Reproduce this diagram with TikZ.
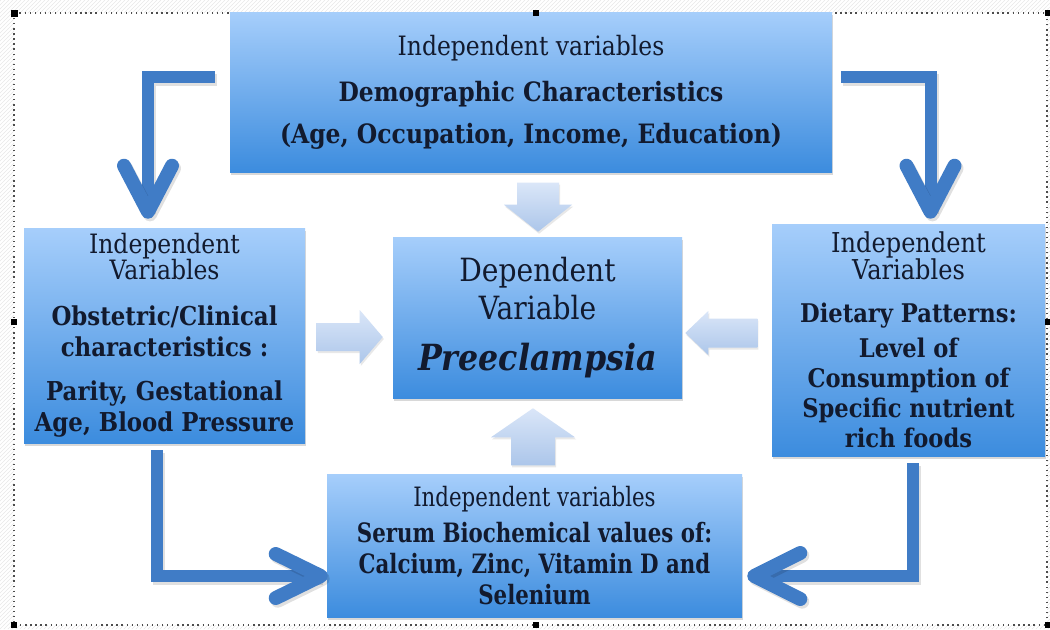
\documentclass[tikz,border=0pt]{standalone}
\usepackage{fontspec}
\setmainfont[FakeStretch=0.88]{DejaVu Serif}
\newfontfamily\narrowserif[FakeStretch=0.8]{DejaVu Serif}
\usetikzlibrary{calc,shadows,patterns}

\definecolor{boxtop}{RGB}{166,206,251}
\definecolor{boxbot}{RGB}{60,140,222}
\definecolor{ink}{RGB}{18,26,46}
\definecolor{arrowblue}{RGB}{64,124,198}
\definecolor{pale}{RGB}{218,230,248}
\definecolor{paledeep}{RGB}{172,198,234}

\tikzset{
  vbox/.style={rectangle, inner sep=0pt, top color=boxtop, bottom color=boxbot,
    text=ink, align=center,
    drop shadow={opacity=0.3, shadow xshift=0.8pt, shadow yshift=-2pt}},
  blockarrow/.style={top color=pale, bottom color=paledeep,
    drop shadow={opacity=0.18, shadow xshift=0.8pt, shadow yshift=-1.5pt}},
  bentshaft/.style={draw=arrowblue, line width=9pt, line join=miter,
    preaction={draw=black, opacity=0.12, line width=9pt,
      transform canvas={shift={(1.5pt,-2pt)}}}},
  chevron/.style={draw=arrowblue, line width=10.5pt, line cap=round, line join=round,
    preaction={draw=black, opacity=0.12, line width=10.5pt, line cap=round, line join=round,
      transform canvas={shift={(1.5pt,-2pt)}}}},
  handle/.style={fill=black, draw=none}
}

\newcommand\regtop{\fontsize{20}{31.5}\selectfont}
\newcommand\regside{\fontsize{20}{23.25}\selectfont}
\newcommand\boldside{\fontsize{19.5}{23.25}\selectfont\bfseries}
\newcommand\regright{\fontsize{20.5}{22.5}\selectfont}
\newcommand\boldright{\fontsize{19.3}{22.5}\selectfont\bfseries}
\newcommand\regmid{\fontsize{24}{28.5}\selectfont}
\newcommand\boldmid{\fontsize{27}{28.5}\selectfont\bfseries\itshape}
\newcommand\regbot{\narrowserif\fontsize{20}{23.25}\selectfont}
\newcommand\boldbot{\narrowserif\fontsize{20}{23.25}\selectfont\bfseries}

\begin{document}
\begin{tikzpicture}[x=0.75pt, y=-0.75pt]
  \useasboundingbox (0,0) rectangle (1050,629);
  \fill[white] (0,0) rectangle (1050,629);

  % hatched margin around the selection frame
  \fill[pattern=north east lines, pattern color=gray!18, even odd rule]
    (0,0) rectangle (1050,629) (14,13) rectangle (1047,625);

  % selection frame
  \draw[gray!60!black, line width=1pt, dash pattern=on 1pt off 2.8pt]
    (14,13) rectangle (1047,625);

  % boxes
  \node[vbox, minimum width=451.5pt, minimum height=120pt, font=\regtop] (top) at (531,92)
    {{\regtop Independent variables}\\[3pt]
     {\regtop\bfseries Demographic Characteristics}\\
     {\regtop\bfseries (Age, Occupation, Income, Education)}};

  \node[vbox, minimum width=210.75pt, minimum height=161.25pt, font=\regside] (left) at (164.5,335.5)
    {{\regside Independent}\\[-3.75pt]
     {\regside Variables}\\[11.25pt]
     {\boldside Obstetric/Clinical}\\
     {\boldside characteristics :}\\[9.75pt]
     {\boldside Parity, Gestational}\\
     {\boldside Age, Blood Pressure}};

  \node[vbox, minimum width=216.75pt, minimum height=120.75pt, font=\regmid] (mid) at (537.5,317.5)
    {{\regmid Dependent}\\
     {\regmid Variable}\\[9.75pt]
     {\boldmid Preeclampsia}};

  \node[vbox, minimum width=204.75pt, minimum height=174pt, font=\regright] (right) at (908.5,340)
    {{\regright Independent}\\[-2.25pt]
     {\regright Variables}\\[9.75pt]
     {\boldright Dietary Patterns:}\\[3.75pt]
     {\boldright Level of}\\
     {\boldright Consumption of}\\
     {\boldright Specific nutrient}\\
     {\boldright rich foods}};

  \node[vbox, minimum width=311.25pt, minimum height=107.25pt, font=\regbot] (bottom) at (534.5,545.5)
    {{\regbot Independent variables}\\[3.75pt]
     {\boldbot Serum Biochemical values of:}\\
     {\boldbot Calcium, Zinc, Vitamin D and}\\
     {\boldbot Selenium}};

  % block arrows pointing at the dependent variable
  \coordinate (tipT) at ($(mid.north)+(0.5,-5)$);
  \path[blockarrow] (tipT) -- ++(-34,-27) -- ++(13,0) -- ++(0,-22) -- ++(42,0)
    -- ++(0,22) -- ++(13,0) -- cycle;
  \coordinate (tipB) at ($(mid.south)+(-4.5,10)$);
  \path[blockarrow] (tipB) -- ++(-42,29) -- ++(20,0) -- ++(0,28) -- ++(44,0)
    -- ++(0,-28) -- ++(20,0) -- cycle;
  \coordinate (tipL) at ($(mid.west)+(-10,19.5)$);
  \path[blockarrow] (tipL) -- ++(-23,-27) -- ++(0,13) -- ++(-43,0) -- ++(0,28)
    -- ++(43,0) -- ++(0,13) -- cycle;
  \coordinate (tipR) at ($(mid.east)+(3,15.5)$);
  \path[blockarrow] (tipR) -- ++(23,-22) -- ++(0,7.5) -- ++(49,0) -- ++(0,29)
    -- ++(-49,0) -- ++(0,7.5) -- cycle;

  % bent arrows between the independent variables
  \coordinate (tlS) at ($(top.west)+(-15,-15)$);
  \coordinate (tlE) at ($(left.north)+(-16.5,-16)$);
  \draw[bentshaft] (tlS) -| (tlE);
  \draw[chevron] ($(tlE)+(-24,-46)$) -- (tlE) -- ($(tlE)+(24,-46)$);

  \coordinate (trS) at ($(top.east)+(9,-15)$);
  \coordinate (trE) at ($(right.north)+(22,-12)$);
  \draw[bentshaft] (trS) -| (trE);
  \draw[chevron] ($(trE)+(-24,-46)$) -- (trE) -- ($(trE)+(24,-46)$);

  \coordinate (blS) at ($(left.south)+(-7.5,7)$);
  \coordinate (blE) at ($(bottom.west)+(-6,30.5)$);
  \draw[bentshaft] (blS) |- (blE);
  \draw[chevron] ($(blE)+(-45,-22)$) -- (blE) -- ($(blE)+(-45,22)$);

  \coordinate (brS) at ($(right.south)+(4.5,7)$);
  \coordinate (brE) at ($(bottom.east)+(12,30.5)$);
  \draw[bentshaft] (brS) |- (brE);
  \draw[chevron] ($(brE)+(46,-23)$) -- (brE) -- ($(brE)+(46,23)$);

  % sizing handles of the selection frame
  \fill[handle] (10.5,9.5) rectangle (17.5,16.5);
  \fill[handle] (533,10) rectangle (539,16);
  \fill[handle] (1045,10) rectangle (1050,16);
  \fill[handle] (11,319) rectangle (17,325);
  \fill[handle] (1045,319) rectangle (1050,325);
  \fill[handle] (11,622) rectangle (17,628);
  \fill[handle] (533,622) rectangle (539,628);
  \fill[handle] (1045,622) rectangle (1050,628);
\end{tikzpicture}
\end{document}
